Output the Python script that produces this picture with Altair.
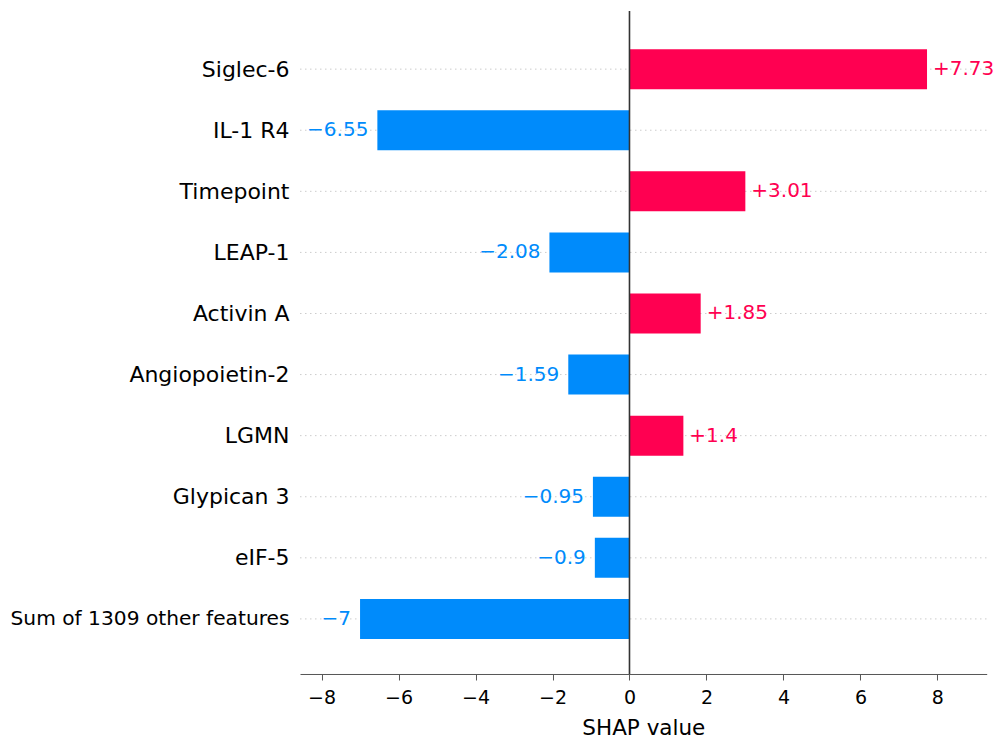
import altair as alt
import pandas as pd

features = ["Siglec-6", "IL-1 R4", "Timepoint", "LEAP-1", "Activin A",
            "Angiopoietin-2", "LGMN", "Glypican 3", "eIF-5",
            "Sum of 1309 other features"]
values = [7.73, -6.55, 3.01, -2.08, 1.85, -1.59, 1.4, -0.95, -0.9, -7.0]
value_labels = ["+7.73", "\u22126.55", "+3.01", "\u22122.08", "+1.85",
                "\u22121.59", "+1.4", "\u22120.95", "\u22120.9", "\u22127"]
x_ticks = [-8, -6, -4, -2, 0, 2, 4, 6, 8]

RED = "#ff0051"
BLUE = "#008bfb"
FONT = "DejaVu Sans"

df = pd.DataFrame({
    "feature": features,
    "value": values,
    "label": value_labels,
    "row": list(range(len(features))),
    "sign": ["pos" if v > 0 else "neg" for v in values],
})

x_scale = alt.Scale(domain=[-8.56, 9.28], nice=False, zero=False)
y_scale = alt.Scale(domain=[-0.87, 9.82], reverse=True, nice=False, zero=False)
color_scale = alt.Scale(domain=["pos", "neg"], range=[RED, BLUE])

labels_js = "[" + ",".join("'" + f + "'" for f in features) + "]"

base = alt.Chart(df)

grid = base.mark_rule(color="#cccccc", strokeDash=[1.5, 3.5], strokeWidth=1).encode(
    y=alt.Y("row:Q", scale=y_scale,
            axis=alt.Axis(values=list(range(len(features))),
                          labelExpr=labels_js + "[datum.value]",
                          title=None, domain=False, ticks=False, grid=False,
                          labelFont=FONT,
                          labelFontSize={"condition": {"test": "datum.value == 9", "value": 20.2},
                                         "value": 22},
                          labelColor="#000000",
                          labelPadding=11, labelLimit=400)),
    x=alt.value(0),
    x2=alt.value(686.7),
)

bars = base.mark_bar(size=40).transform_calculate(zero="0").encode(
    x=alt.X("value:Q", scale=x_scale,
            axis=alt.Axis(values=x_ticks, title="SHAP value",
                          labelExpr="datum.value < 0 ? '\u2212' + abs(datum.value) : '' + datum.value",
                          grid=False, domainColor="#555555", tickColor="#555555",
                          tickSize=6, labelFont=FONT, labelFontSize=19,
                          labelColor="#000000", titleFont=FONT, titleFontSize=21.5,
                          titleFontWeight="normal", titleColor="#000000",
                          titlePadding=10, labelPadding=9)),
    x2="zero:Q",
    y=alt.Y("row:Q", scale=y_scale),
    color=alt.Color("sign:N", scale=color_scale, legend=None),
)

zero_line = alt.Chart(pd.DataFrame({"z": [0]})).mark_rule(color="#333333", strokeWidth=1.6).encode(
    x=alt.X("z:Q", scale=x_scale),
)

text_pos = base.transform_filter("datum.value > 0").mark_text(
    align="left", baseline="middle", dx=6, font=FONT, fontSize=20
).encode(
    x=alt.X("value:Q", scale=x_scale),
    y=alt.Y("row:Q", scale=y_scale),
    text="label:N",
    color=alt.Color("sign:N", scale=color_scale, legend=None),
)

text_neg = base.transform_filter("datum.value < 0").mark_text(
    align="right", baseline="middle", dx=-9, font=FONT, fontSize=20
).encode(
    x=alt.X("value:Q", scale=x_scale),
    y=alt.Y("row:Q", scale=y_scale),
    text="label:N",
    color=alt.Color("sign:N", scale=color_scale, legend=None),
)

chart = alt.layer(grid, bars, zero_line, text_pos, text_neg).properties(
    width=686.7, height=663,
    autosize=alt.AutoSizeParams(type="none"),
    padding={"left": 300, "top": 11, "right": 13, "bottom": 76},
).configure(background="white").configure_view(stroke=None, strokeWidth=0)

chart.save("out.html", embed_options={"renderer": "svg", "actions": False})
